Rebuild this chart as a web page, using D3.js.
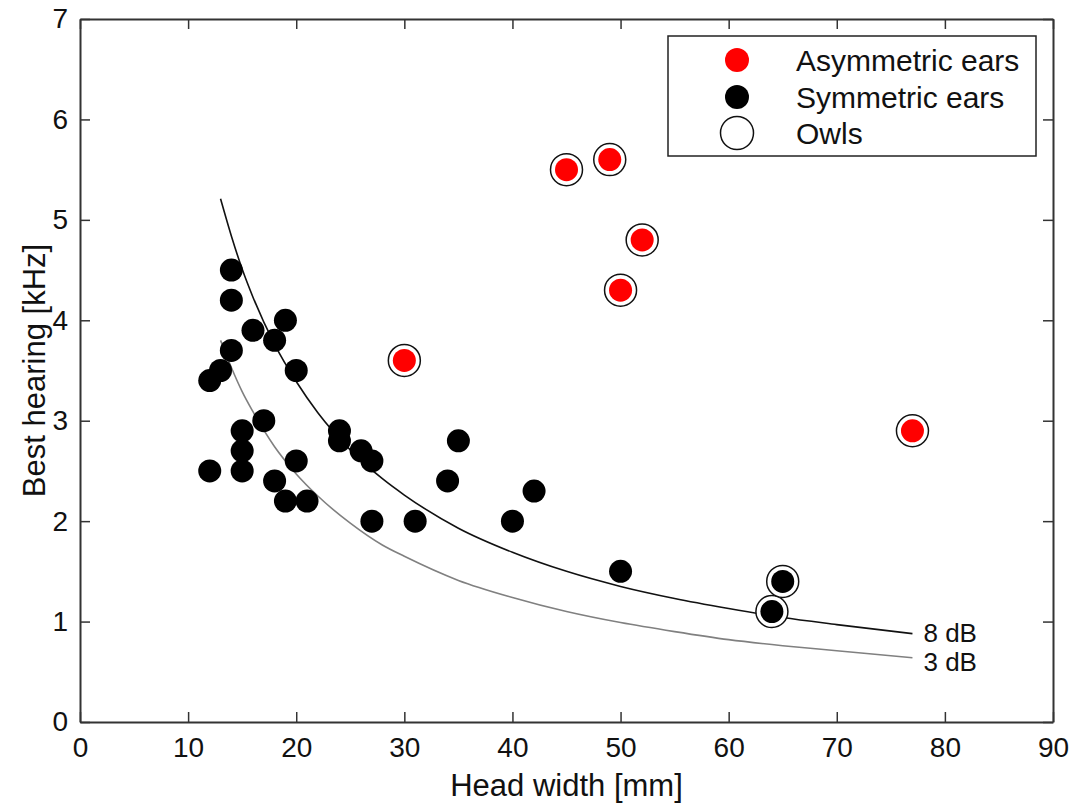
<!DOCTYPE html>
<html>
<head>
<meta charset="utf-8">
<script src="https://cdn.jsdelivr.net/npm/d3@7"></script>
<style>
  body { margin: 0; background: #fff; }
  text { font-family: "Liberation Sans", Arial, sans-serif; fill: #111; }
</style>
</head>
<body>
<script>
// symmetric ears (black dots)
var symX = [12, 13, 14, 14, 14, 16, 18, 19, 20, 12, 15, 15, 15, 17, 18, 19, 20, 21,
            24, 24, 26, 27, 27, 31, 34, 35, 40, 42, 50, 64, 65];
var symY = [3.4, 3.5, 3.7, 4.5, 4.2, 3.9, 3.8, 4.0, 3.5, 2.5, 2.9, 2.7, 2.5, 3.0, 2.4, 2.2, 2.6, 2.2,
            2.9, 2.8, 2.7, 2.6, 2.0, 2.0, 2.4, 2.8, 2.0, 2.3, 1.5, 1.1, 1.4];
// asymmetric ears (red dots)
var asymX = [30, 45, 49, 52, 50, 77];
var asymY = [3.6, 5.5, 5.6, 4.8, 4.3, 2.9];
// owls (ringed)
var owlX = [30, 45, 49, 52, 50, 77, 64, 65];
var owlY = [3.6, 5.5, 5.6, 4.8, 4.3, 2.9, 1.1, 1.4];

// reference curves
var curveX = [13, 14, 15, 16, 18, 20, 22, 25, 28, 30, 35, 40, 45, 50, 55, 60, 65, 70, 77];
var db8Y = [5.21, 4.84, 4.51, 4.23, 3.76, 3.39, 3.08, 2.71, 2.42, 2.26, 1.93, 1.69, 1.50, 1.35, 1.23, 1.13, 1.04, 0.97, 0.88];
var db3Y = [3.80, 3.53, 3.29, 3.09, 2.74, 2.47, 2.25, 1.98, 1.76, 1.65, 1.41, 1.24, 1.10, 0.99, 0.90, 0.82, 0.76, 0.71, 0.64];

var xTicks = [0, 10, 20, 30, 40, 50, 60, 70, 80, 90];
var yTicks = [0, 1, 2, 3, 4, 5, 6, 7];
var legendLabels = ["Asymmetric ears", "Symmetric ears", "Owls"];

var margin = {top: 19, right: 19, bottom: 81, left: 80};
var width = 1072 - margin.left - margin.right;
var height = 803 - margin.top - margin.bottom;

var svg = d3.select("body")
  .append("svg")
  .attr("width", 1072)
  .attr("height", 803);

var g = svg.append("g")
  .attr("transform", "translate(" + margin.left + "," + margin.top + ")");

var xScale = d3.scaleLinear().domain([0, 90]).range([0, width]);
var yScale = d3.scaleLinear().domain([0, 7]).range([height, 0]);

// axes (ticks inside, mirrored on top/right)
function styleAxis(sel) {
  sel.select(".domain").attr("stroke", "#333").attr("stroke-width", 2);
  sel.selectAll(".tick line").attr("stroke", "#333").attr("stroke-width", 1.5);
  sel.selectAll(".tick text").style("font-size", "28px").attr("fill", "#111");
}

g.append("g")
  .attr("transform", "translate(0," + height + ")")
  .call(d3.axisBottom(xScale).tickValues(xTicks).tickFormat(d3.format("d"))
        .tickSizeInner(-10).tickSizeOuter(0).tickPadding(15))
  .call(styleAxis);

g.append("g")
  .call(d3.axisLeft(yScale).tickValues(yTicks).tickFormat(d3.format("d"))
        .tickSizeInner(-10).tickSizeOuter(0).tickPadding(12))
  .call(styleAxis);

g.append("g")
  .call(d3.axisTop(xScale).tickValues(xTicks).tickSizeInner(-10).tickSizeOuter(0).tickFormat(""))
  .call(styleAxis);

g.append("g")
  .attr("transform", "translate(" + width + ",0)")
  .call(d3.axisRight(yScale).tickValues(yTicks).tickSizeInner(-10).tickSizeOuter(0).tickFormat(""))
  .call(styleAxis);

// curves
var line = d3.line()
  .x(function(d) { return xScale(d[0]); })
  .y(function(d) { return yScale(d[1]); })
  .curve(d3.curveMonotoneX);

g.append("path")
  .datum(d3.zip(curveX, db3Y))
  .attr("d", line)
  .attr("fill", "none")
  .attr("stroke", "#808080")
  .attr("stroke-width", 1.6);

g.append("path")
  .datum(d3.zip(curveX, db8Y))
  .attr("d", line)
  .attr("fill", "none")
  .attr("stroke", "#111")
  .attr("stroke-width", 1.6);

g.append("text")
  .attr("x", xScale(curveX[curveX.length - 1]) + 11)
  .attr("y", yScale(db8Y[db8Y.length - 1]) + 8)
  .style("font-size", "26px")
  .text("8 dB");

g.append("text")
  .attr("x", xScale(curveX[curveX.length - 1]) + 11)
  .attr("y", yScale(db3Y[db3Y.length - 1]) + 13)
  .style("font-size", "26px")
  .text("3 dB");

// owl rings
g.selectAll(".owl")
  .data(d3.zip(owlX, owlY))
  .enter()
  .append("circle")
  .attr("class", "owl")
  .attr("cx", function(d) { return xScale(d[0]); })
  .attr("cy", function(d) { return yScale(d[1]); })
  .attr("r", 16)
  .attr("fill", "#fff")
  .attr("stroke", "#111")
  .attr("stroke-width", 1.5);

// symmetric points
g.selectAll(".sym")
  .data(d3.zip(symX, symY))
  .enter()
  .append("circle")
  .attr("class", "sym")
  .attr("cx", function(d) { return xScale(d[0]); })
  .attr("cy", function(d) { return yScale(d[1]); })
  .attr("r", 11.5)
  .attr("fill", "#000");

// asymmetric points
g.selectAll(".asym")
  .data(d3.zip(asymX, asymY))
  .enter()
  .append("circle")
  .attr("class", "asym")
  .attr("cx", function(d) { return xScale(d[0]); })
  .attr("cy", function(d) { return yScale(d[1]); })
  .attr("r", 11.5)
  .attr("fill", "#f00");

// legend
var legend = svg.append("g").attr("transform", "translate(668,36)");
legend.append("rect")
  .attr("width", 368)
  .attr("height", 120)
  .attr("fill", "#fff")
  .attr("stroke", "#222")
  .attr("stroke-width", 1.5);

var legendRows = [24, 61, 97];
legend.append("circle").attr("cx", 69).attr("cy", legendRows[0]).attr("r", 12).attr("fill", "#f00");
legend.append("circle").attr("cx", 69).attr("cy", legendRows[1]).attr("r", 12).attr("fill", "#000");
legend.append("circle").attr("cx", 69).attr("cy", legendRows[2]).attr("r", 16.5)
  .attr("fill", "#fff").attr("stroke", "#111").attr("stroke-width", 1.5);

legend.selectAll(".ltext")
  .data(legendLabels)
  .enter()
  .append("text")
  .attr("class", "ltext")
  .attr("x", 128)
  .attr("y", function(d, i) { return legendRows[i] + 11; })
  .style("font-size", "30px")
  .text(function(d) { return d; });

// axis titles
svg.append("text")
  .attr("x", margin.left + width / 2)
  .attr("y", 796)
  .attr("text-anchor", "middle")
  .style("font-size", "31px")
  .text("Head width [mm]");

svg.append("text")
  .attr("transform", "translate(45," + (margin.top + height / 2) + ") rotate(-90)")
  .attr("text-anchor", "middle")
  .style("font-size", "31px")
  .text("Best hearing [kHz]");
</script>
</body>
</html>
